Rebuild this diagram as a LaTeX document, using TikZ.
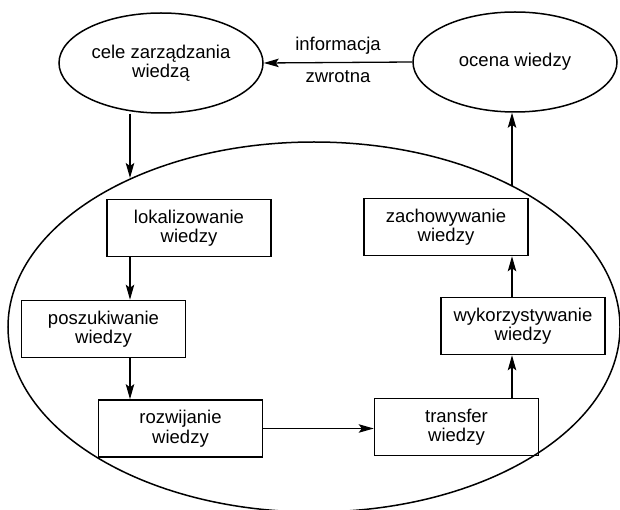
\documentclass[tikz,border=0pt]{standalone}
\usepackage{fontspec}
\setmainfont{Liberation Sans}
\usepackage{tikz}
\usetikzlibrary{shapes.geometric, arrows.meta}

\begin{document}
\begin{tikzpicture}[x=1pt, y=-1pt,
    every node/.style={font=\fontsize{18.5}{19.5}\selectfont, align=center},
    krok/.style={draw, line width=1.6pt, minimum width=164pt, minimum height=57pt, inner sep=0pt},
    cel/.style={draw, ellipse, line width=1.5pt, minimum width=204pt, minimum height=100pt, inner sep=0pt},
    strz/.style={line width=1.3pt, -{Stealth[length=15pt, width=8.5pt, inset=3pt]}}]
  \useasboundingbox (0,0) rectangle (620,510);
  \node[draw, ellipse, line width=1.5pt, minimum width=612pt, minimum height=370pt] (proces) at (314,327) {};
  \node[cel] (cele) at (161,63) {cele zarządzania\\wiedzą};
  \node[cel] (ocena) at (515,62) {ocena wiedzy};
  \node[krok] (lok) at (189,228) {lokalizowanie\\wiedzy};
  \node[krok] (posz) at (103.5,329) {poszukiwanie\\wiedzy};
  \node[krok] (rozw) at (180.5,428.5) {rozwijanie\\wiedzy};
  \node[krok] (transfer) at (456.5,427) {transfer\\wiedzy};
  \node[krok] (wyk) at (523,326) {wykorzystywanie\\wiedzy};
  \node[krok] (zach) at (446,227) {zachowywanie\\wiedzy};
  \coordinate (lcol) at (130,0);
  \coordinate (rcol) at (512,0);
  \coordinate (procin) at (130,178);
  \coordinate (procout) at (512,186);
  % petla sprzezenia
  \draw[strz] (ocena.west) -- (cele.east)
    node[midway, above=4pt] (info) {informacja}
    node[midway, below=4pt] (zwr) {zwrotna};
  \draw[strz] (cele.south -| lcol) -- (procin);
  \draw[strz] (procout) -- (ocena.south -| rcol);
  % kroki wewnatrz
  \draw[strz] (lok.south -| lcol) -- (posz.north -| lcol);
  \draw[strz] (posz.south -| lcol) -- (rozw.north -| lcol);
  \draw[strz] (rozw.east) -- (rozw.east -| transfer.west);
  \draw[strz] (transfer.north -| rcol) -- (wyk.south -| rcol);
  \draw[strz] (wyk.north -| rcol) -- (zach.south -| rcol);
\end{tikzpicture}
\end{document}
